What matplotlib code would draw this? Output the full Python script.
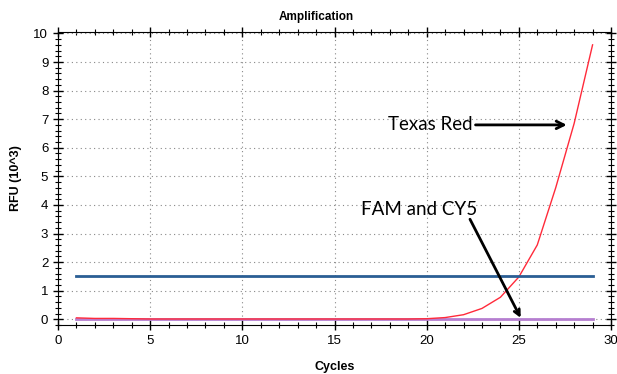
import numpy as np
import matplotlib
matplotlib.use('Agg')
import matplotlib.pyplot as plt
from matplotlib.ticker import MultipleLocator

cycles = np.arange(1, 30)
texas_red = [0.05, 0.03, 0.03, 0.02, 0.01, 0.01, 0.01, 0.01, 0.01, 0.01,
             0.01, 0.01, 0.01, 0.01, 0.01, 0.01, 0.01, 0.01, 0.01, 0.02,
             0.06, 0.16, 0.38, 0.77, 1.48, 2.6, 4.6, 6.85, 9.6]
fam_cy5 = [0.0] * 29
threshold = 1.5

plt.rcParams['font.family'] = ['Liberation Sans', 'DejaVu Sans']

fig = plt.figure(figsize=(6.17, 3.74), dpi=100)
ax = fig.add_axes([58/617, 1 - 325/374, (611-58)/617, (325-32)/374])

ax.plot(cycles, fam_cy5, c='#b57ed0', lw=2)
ax.plot(cycles, texas_red, c='#ff2a3a', lw=1)
ax.plot([cycles[0], cycles[-1]], [threshold, threshold], c='#2a5e94', lw=2)

ax.set_xlim(0, 30)
ax.set_ylim(-0.2, 10.05)
ax.xaxis.set_major_locator(MultipleLocator(5))
ax.xaxis.set_minor_locator(MultipleLocator(1))
ax.yaxis.set_major_locator(MultipleLocator(1))
ax.yaxis.set_minor_locator(MultipleLocator(0.2))
ax.tick_params(which='both', direction='inout', top=True, right=True, labelsize=9.5)
ax.tick_params(which='major', length=7, width=1)
ax.tick_params(which='minor', length=4, width=0.8)
ax.grid(True, which='major', ls=(0, (1, 3)), c='#888888', lw=0.8)

fig.text(316/617, 1 - 17/374, 'Amplification', fontsize=8.5, fontweight='bold',
         ha='center', va='center')
ax.set_xlabel('Cycles', fontsize=9, fontweight='bold', labelpad=10)
ax.set_ylabel('RFU (10^3)', fontsize=9, fontweight='bold', labelpad=8)

label_font = dict(fontsize=13.5, family=['Lato', 'DejaVu Sans'])
ax.annotate('Texas Red', xy=(27.6, 6.8), xytext=(22.5, 6.8),
            ha='right', va='center', **label_font,
            arrowprops=dict(arrowstyle='->', color='k', lw=2, shrinkA=0, shrinkB=0))
ax.text(19.6, 3.85, 'FAM and CY5', ha='center', va='center', **label_font)
ax.annotate('', xy=(25.1, 0.05), xytext=(22.35, 3.5),
            arrowprops=dict(arrowstyle='->', color='k', lw=2, shrinkA=0, shrinkB=0))

fig.savefig('out.png', dpi=100)
